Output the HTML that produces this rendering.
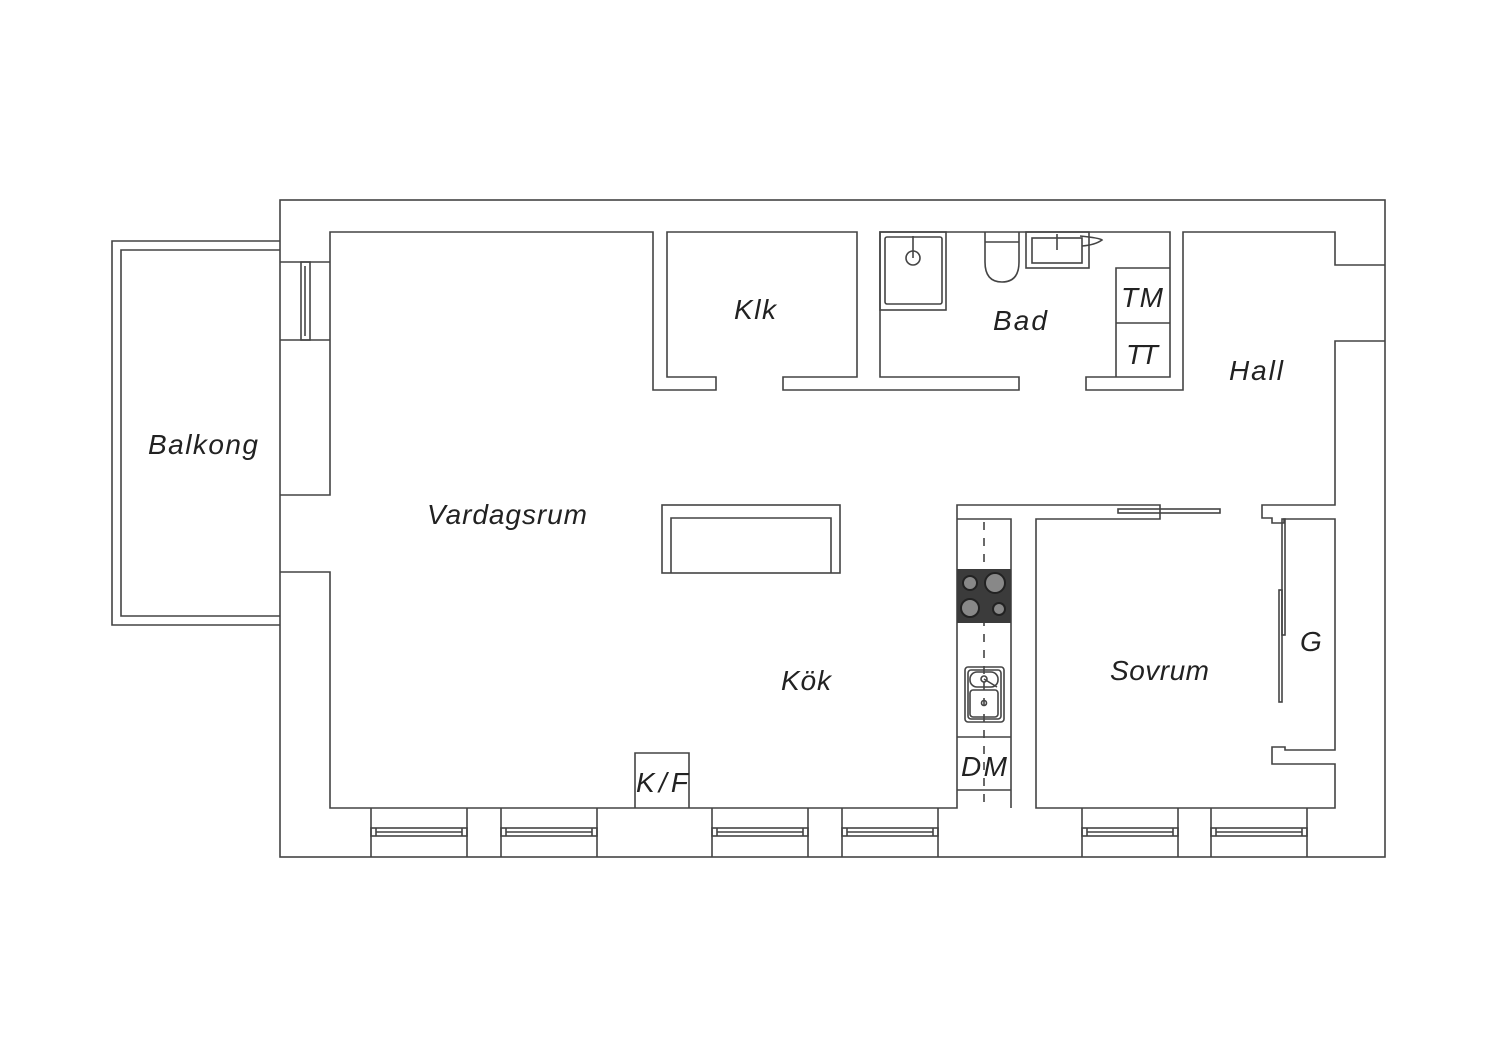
<!DOCTYPE html>
<html><head><meta charset="utf-8"><style>
html,body{margin:0;padding:0;background:#fff;width:1500px;height:1060px;overflow:hidden}
svg{display:block}
text{font-family:"Liberation Sans",sans-serif;font-style:italic;fill:#222}
</style></head><body>
<svg width="1500" height="1060" viewBox="0 0 1500 1060" xmlns="http://www.w3.org/2000/svg">
<defs>
<g id="w"><line x1="0" y1="0" x2="0" y2="49"/><line x1="96" y1="0" x2="96" y2="49"/><rect x="0" y="20" width="96" height="8"/><line x1="5" y1="20" x2="5" y2="28"/><line x1="91" y1="20" x2="91" y2="28"/><line x1="5" y1="24" x2="91" y2="24"/></g>
</defs>
<g fill="none" stroke="#444" stroke-width="1.6">
<rect x="280" y="200" width="1105" height="657"/>
<polyline points="280,241 112,241 112,625 280,625"/>
<polyline points="280,250 121,250 121,616 280,616"/>
<line x1="280" y1="262" x2="330" y2="262"/>
<line x1="280" y1="340" x2="330" y2="340"/>
<rect x="301" y="262" width="9" height="78"/>
<line x1="305" y1="266" x2="305" y2="336"/>
<polyline points="280,495 330,495 330,232 653,232 653,390 716,390 716,377 667,377 667,232 857,232 857,377 783,377 783,390 1019,390 1019,377 880,377 880,232 1170,232 1170,377 1086,377 1086,390 1183,390 1183,232 1335,232 1335,265 1385,265"/>
<polyline points="1385,341 1335,341 1335,505 1262,505 1262,518 1272,518 1272,523 1284,523 1284,519 1335,519 1335,750 1285,750 1285,747 1272,747 1272,764 1335,764 1335,808 1036,808 1036,519 1160,519 1160,505 957,505 957,808 330,808 330,572 280,572"/>
<polyline points="957,519 1011,519 1011,808"/>
<line x1="957" y1="737" x2="1011" y2="737"/>
<line x1="957" y1="790" x2="1011" y2="790"/>
<line x1="984" y1="522" x2="984" y2="808" stroke-dasharray="8,8"/>
<rect x="1118" y="509" width="102" height="4"/>
<rect x="1282" y="519" width="3" height="116"/>
<rect x="1279" y="590" width="3" height="112"/>
<polyline points="1116,377 1116,268 1170,268"/>
<line x1="1116" y1="323" x2="1170" y2="323"/>
<rect x="880" y="232" width="66" height="78"/>
<rect x="885" y="237" width="57" height="67" rx="2"/>
<circle cx="913" cy="258" r="7"/>
<line x1="913" y1="236" x2="913" y2="258"/>
<path d="M985,232 V262 Q985,282 1002,282 Q1019,282 1019,262 V232"/>
<line x1="985" y1="242" x2="1019" y2="242"/>
<rect x="1026" y="232" width="63" height="36"/>
<rect x="1032" y="238" width="50" height="25"/>
<line x1="1057" y1="234" x2="1057" y2="250"/>
<path d="M1080,236 Q1100,238 1102,240 Q1095,245 1082,246"/>
<rect x="662" y="505" width="178" height="68"/>
<polyline points="671,573 671,518 831,518 831,573"/>
<polyline points="635,808 635,753 689,753 689,808"/>
<rect x="965" y="667" width="39" height="55" rx="3"/>
<rect x="968" y="670" width="33" height="49" rx="3"/>
<rect x="970" y="672" width="28" height="15" rx="7"/>
<rect x="970" y="690" width="28" height="27" rx="3"/>
<circle cx="984" cy="679" r="3"/>
<circle cx="984" cy="703" r="2.5"/>
<line x1="984" y1="679" x2="997" y2="687"/>
</g>
<rect x="957" y="569" width="54" height="54" fill="#3b3b3b"/>
<g stroke="#222" stroke-width="2" fill="#888">
<circle cx="970" cy="583" r="7"/>
<circle cx="995" cy="583" r="10"/>
<circle cx="970" cy="608" r="9"/>
<circle cx="999" cy="609" r="6"/>
</g>
<g fill="none" stroke="#444" stroke-width="1.6">
<use href="#w" x="371" y="808"/>
<use href="#w" x="501" y="808"/>
<use href="#w" x="712" y="808"/>
<use href="#w" x="842" y="808"/>
<use href="#w" x="1082" y="808"/>
<use href="#w" x="1211" y="808"/>
</g>
<g font-size="28">
<text x="148" y="454" textLength="110">Balkong</text>
<text x="427" y="524" textLength="160">Vardagsrum</text>
<text x="734" y="319" textLength="42">Klk</text>
<text x="993" y="330" textLength="54">Bad</text>
<text x="1229" y="380" textLength="54">Hall</text>
<text x="781" y="690" textLength="50">Kök</text>
<text x="1110" y="680" textLength="99">Sovrum</text>
<text x="1300" y="651">G</text>
<text x="1121" y="307" textLength="42">TM</text>
<text x="1126" y="364" textLength="32">TT</text>
<text x="961" y="776" textLength="46">DM</text>
<text x="636" y="792" textLength="52">K/F</text>
</g>
</svg>
</body></html>
